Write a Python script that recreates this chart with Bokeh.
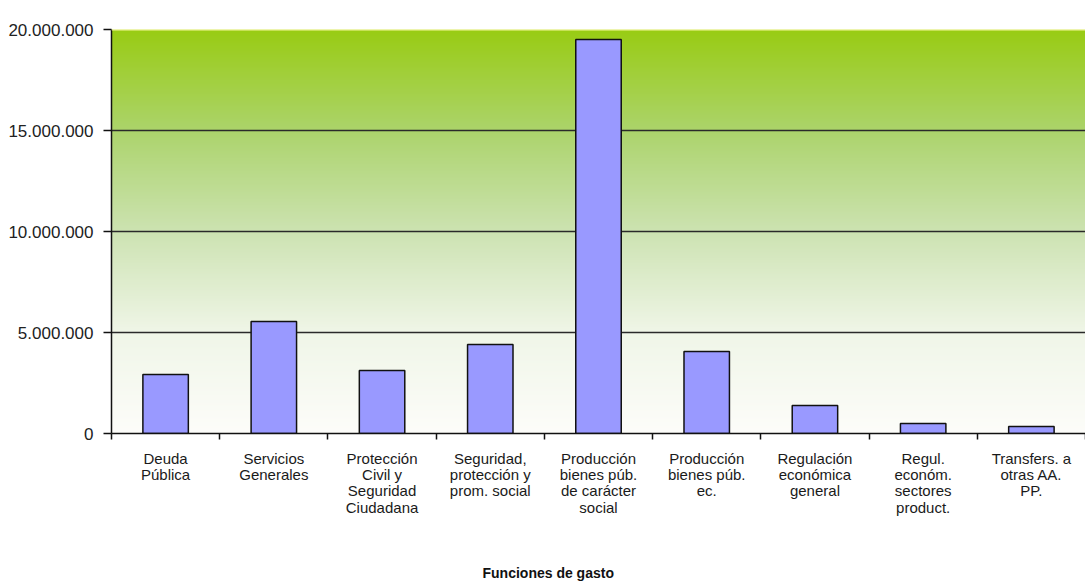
import numpy as np
from bokeh.plotting import figure
from bokeh.models import Range1d, FixedTicker, Title, Span
from bokeh.embed import file_html
from bokeh.resources import INLINE

categories = [
    "Deuda\nPública",
    "Servicios\nGenerales",
    "Protección\nCivil y\nSeguridad\nCiudadana",
    "Seguridad,\nprotección y\nprom. social",
    "Producción\nbienes púb.\nde carácter\nsocial",
    "Producción\nbienes púb.\nec.",
    "Regulación\neconómica\ngeneral",
    "Regul.\neconóm.\nsectores\nproduct.",
    "Transfers. a\notras AA.\nPP.",
]
values = [2920000, 5540000, 3120000, 4400000, 19500000, 4060000, 1390000, 500000, 350000]
y_tick_values = [0, 5000000, 10000000, 15000000, 20000000]
y_tick_labels = ["0", "5.000.000", "10.000.000", "15.000.000", "20.000.000"]
x_title = "Funciones de gasto"

n = len(categories)
centers = [i + 0.5 for i in range(n)]
ymax = y_tick_values[-1]

p = figure(width=1085, height=583, output_backend="svg", toolbar_location=None,
           x_range=Range1d(0, n), y_range=Range1d(0, ymax),
           min_border_left=111, min_border_right=0, min_border_top=29,
           min_border_bottom=150,
           background_fill_color="white", border_fill_color="white",
           outline_line_color=None)

# background gradient (bottom -> top)
N = 400
t = np.linspace(0, 1, N)
stops = [0.0, 0.25, 0.5, 0.75, 1.0]
rs = [253, 240, 205, 172, 153]
gs = [253, 246, 227, 212, 204]
bs = [250, 232, 178, 108, 20]
img = np.empty((N, 1), dtype=np.uint32)
view = img.view(dtype=np.uint8).reshape((N, 1, 4))
view[:, 0, 0] = np.interp(t, stops, rs).astype(np.uint8)
view[:, 0, 1] = np.interp(t, stops, gs).astype(np.uint8)
view[:, 0, 2] = np.interp(t, stops, bs).astype(np.uint8)
view[:, 0, 3] = 255
p.image_rgba(image=[img], x=0, y=0, dw=n, dh=ymax, level="image")

p.ygrid.ticker = FixedTicker(ticks=y_tick_values[1:-1])
p.ygrid.grid_line_color = "#2a2a2a"
p.ygrid.grid_line_width = 1.5
p.xgrid.visible = False
p.add_layout(Span(location=ymax, dimension="width", line_color="#f6f59a", line_width=2))

p.vbar(x=centers, top=values, width=0.42, fill_color="#9999FF",
       line_color="#111111", line_width=1.5)

# x axis
xa = p.xaxis[0]
xa.ticker = FixedTicker(ticks=centers, minor_ticks=list(range(n + 1)))
xa.major_label_overrides = {c: lab for c, lab in zip(centers, categories)}
xa.major_tick_line_color = None
xa.major_tick_out = 6
xa.major_tick_in = 0
xa.minor_tick_line_color = "#111111"
xa.minor_tick_line_width = 1.5
xa.minor_tick_out = 6
xa.minor_tick_in = 0
xa.axis_line_color = "#111111"
xa.axis_line_width = 1.5
xa.major_label_standoff = 10
xa.major_label_text_font = "Liberation Sans"
xa.major_label_text_font_size = "15px"
xa.major_label_text_color = "#1a1a1a"
xa.major_label_text_line_height = 0.97
# blank axis label used only as vertical spacing before the axis title
xa.axis_label = "\u00a0"
xa.axis_label_text_font_size = "14px"
xa.axis_label_standoff = 23

# y axis
ya = p.yaxis[0]
ya.ticker = FixedTicker(ticks=y_tick_values)
ya.major_label_overrides = {v: lab for v, lab in zip(y_tick_values, y_tick_labels)}
ya.major_tick_out = 8
ya.major_tick_in = 0
ya.major_tick_line_color = "#111111"
ya.major_tick_line_width = 1.5
ya.minor_tick_line_color = None
ya.axis_line_color = "#111111"
ya.axis_line_width = 1.5
ya.major_label_standoff = 10
ya.major_label_text_font = "Liberation Sans"
ya.major_label_text_font_size = "17px"
ya.major_label_text_color = "#222222"

p.add_layout(Title(text=x_title, align="left", offset=371, standoff=4,
                   text_font="Liberation Sans", text_font_size="14px",
                   text_font_style="bold", text_color="#111111"), "below")

open("out.html", "w").write(file_html(p, INLINE))
